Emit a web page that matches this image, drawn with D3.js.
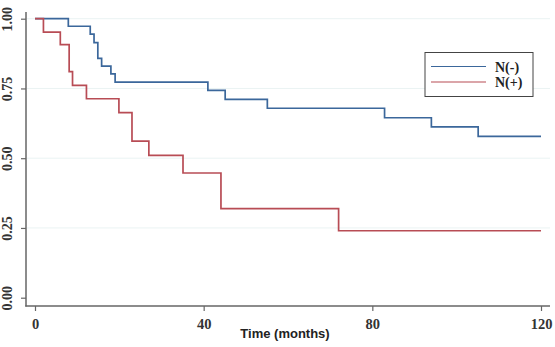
<!DOCTYPE html>
<html>
<head>
<meta charset="utf-8">
<script src="https://cdn.jsdelivr.net/npm/d3@7"></script>
<style>
  body { margin: 0; background: #fff; }
  svg { display: block; }
</style>
</head>
<body>
<div id="grafica"></div>
<script>
'use strict'

//---------------------------Datos--------------------------------//
// Curvas Kaplan-Meier: tiempo (meses) y supervivencia tras cada paso
var tiemposNeg = [0, 7.9, 13.1, 14.0, 14.9, 15.8, 18.0, 19.0, 41.0, 45.1, 55.1, 82.9, 94.0, 105.1, 120];
var survNeg    = [1.00, 0.973, 0.945, 0.914, 0.858, 0.830, 0.802, 0.773, 0.743, 0.711, 0.679, 0.645, 0.612, 0.578, 0.578];

var tiemposPos = [0, 2.0, 6.0, 8.1, 8.9, 12.2, 19.9, 23.0, 27.0, 35.1, 44.1, 72.0, 120];
var survPos    = [1.00, 0.952, 0.907, 0.810, 0.761, 0.713, 0.663, 0.561, 0.510, 0.447, 0.319, 0.240, 0.240];

var series = ['N(-)', 'N(+)'];
var colores = ['#3b679b', '#b84c55'];

var ticksX = [0, 40, 80, 120];
var ticksY = [0, 0.25, 0.5, 0.75, 1];
var tituloX = 'Time (months)';

//---------------------------Lienzo--------------------------------//
var width = 555, height = 347;

var svg = d3.select('#grafica').append('svg')
  .attr('width', width)
  .attr('height', height);

// Escalas
var x = d3.scaleLinear().domain([0, 120]).range([35, 541]);
var y = d3.scaleLinear().domain([0, 1]).range([297.7, 18.7]);

// Líneas de la rejilla
svg.append('g')
  .selectAll('line')
  .data(ticksY.filter(function (d) { return d > 0; }))
  .enter().append('line')
  .attr('x1', 27).attr('x2', 550)
  .attr('y1', function (d) { return y(d); })
  .attr('y2', function (d) { return y(d); })
  .attr('stroke', '#eaf3f3')
  .attr('stroke-width', 1);

// Eje Y
var ejeY = svg.append('g')
  .attr('transform', 'translate(26,0)')
  .call(d3.axisLeft(y).tickValues(ticksY).tickFormat(d3.format('.2f')).tickSize(5).tickPadding(4));
ejeY.select('.domain').attr('d', 'M0,12V306.5').attr('stroke', '#666').attr('stroke-width', 1.5);
ejeY.selectAll('.tick line').attr('stroke', '#666').attr('stroke-width', 1.2);
ejeY.selectAll('.tick text')
  .attr('transform', 'rotate(-90)')
  .attr('x', 0)
  .attr('y', -14.5)
  .attr('dy', 0)
  .attr('text-anchor', 'middle')
  .style('font-family', '"Liberation Serif", "DejaVu Serif", serif')
  .style('font-weight', 'bold')
  .style('font-size', '14px')
  .style('fill', '#333');

// Eje X
var ejeX = svg.append('g')
  .attr('transform', 'translate(0,306)')
  .call(d3.axisBottom(x).tickValues(ticksX).tickFormat(d3.format('d')).tickSize(5).tickPadding(8));
ejeX.select('.domain').attr('d', 'M25.3,0H550').attr('stroke', '#666').attr('stroke-width', 1.5);
ejeX.selectAll('.tick line').attr('stroke', '#666').attr('stroke-width', 1.2);
ejeX.selectAll('.tick text')
  .attr('y', 23)
  .attr('dy', 0)
  .style('font-family', '"Liberation Serif", "DejaVu Serif", serif')
  .style('font-weight', 'bold')
  .style('font-size', '14.5px')
  .style('fill', '#333');

svg.append('text')
  .attr('x', 285)
  .attr('y', 338)
  .attr('text-anchor', 'middle')
  .style('font-family', '"Liberation Sans", Arial, sans-serif')
  .style('font-weight', 'bold')
  .style('font-size', '13px')
  .style('fill', '#222')
  .text(tituloX);

//---------------------------Curvas--------------------------------//
var escalon = d3.line()
  .x(function (d) { return x(d[0]); })
  .y(function (d) { return y(d[1]); })
  .curve(d3.curveStepAfter);

var datos = [d3.zip(tiemposNeg, survNeg), d3.zip(tiemposPos, survPos)];

svg.append('g')
  .selectAll('path')
  .data(datos)
  .enter().append('path')
  .attr('fill', 'none')
  .attr('stroke', function (d, i) { return colores[i]; })
  .attr('stroke-width', 1.7)
  .attr('d', escalon);

//---------------------------Leyenda--------------------------------//
var leyenda = svg.append('g').attr('transform', 'translate(425,52.5)');
leyenda.append('rect')
  .attr('width', 108).attr('height', 44)
  .attr('fill', '#fff')
  .attr('stroke', '#444')
  .attr('stroke-width', 1);

series.forEach(function (s, i) {
  var yy = 14 + i * 15.5;
  leyenda.append('line')
    .attr('x1', 6).attr('x2', 61)
    .attr('y1', yy).attr('y2', yy)
    .attr('stroke', colores[i])
    .attr('stroke-width', 1.2);
  leyenda.append('text')
    .attr('x', 70).attr('y', yy + 5)
    .style('font-family', '"Liberation Serif", "DejaVu Serif", serif')
    .style('font-weight', 'bold')
    .style('font-size', '14px')
    .style('fill', '#222')
    .text(s);
});
</script>
</body>
</html>
